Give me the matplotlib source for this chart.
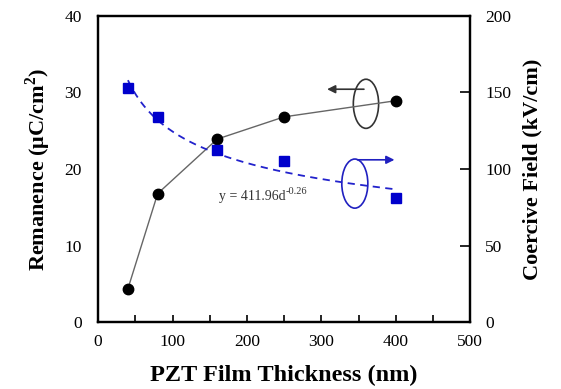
import matplotlib.pyplot as plt
import numpy as np
from matplotlib.patches import Ellipse

plt.rcParams['font.family'] = ['Liberation Serif', 'DejaVu Serif']
plt.rcParams['mathtext.fontset'] = 'custom'
plt.rcParams['mathtext.rm'] = 'Liberation Serif'
plt.rcParams['mathtext.bf'] = 'Liberation Serif:bold'

# data
thickness = [40, 80, 160, 250, 400]
remanence = [4.4, 16.8, 23.9, 26.8, 28.9]
coercive = [152.5, 134, 112.5, 105, 81]

# power-law fit printed on the chart: y = a * d^b
fit_a = 411.96
fit_b = -0.26

fig = plt.figure(figsize=(5.61, 3.89), dpi=100)
ax1 = fig.add_axes([0.175, 0.171, 0.663, 0.789])
ax2 = ax1.twinx()

ax1.plot(thickness, remanence, '-', color='#666666', linewidth=1.0, zorder=2)
ax1.plot(thickness, remanence, 'o', color='black', markersize=7.5, zorder=3)

d = np.linspace(min(thickness), max(thickness), 200)
ax2.plot(d, fit_a * d ** fit_b, '--', color='#2222cc', linewidth=1.3, dashes=(4, 3))
ax2.plot(thickness, coercive, 's', color='#0000cc', markersize=7.5)

ax1.set_xlim(0, 500)
ax1.set_ylim(0, 40)
ax2.set_ylim(0, 200)
ax1.set_xticks([0, 100, 200, 300, 400, 500])
ax1.set_xticks([50, 150, 250, 350, 450], minor=True)
ax1.set_yticks([0, 10, 20, 30, 40])
ax2.set_yticks([0, 50, 100, 150, 200])

ax1.tick_params(axis='x', direction='in', length=5, width=1.2, labelsize=12.5, pad=8)
ax1.tick_params(axis='x', which='minor', direction='in', length=5, width=1.2)
ax1.tick_params(axis='y', length=0, labelsize=12.5, pad=12)
ax2.tick_params(axis='y', direction='in', length=7, width=1.2, labelsize=12.5, pad=11)
for ax in (ax1, ax2):
    for s in ax.spines.values():
        s.set_linewidth(1.6)

ax1.set_xlabel('PZT Film Thickness (nm)', fontsize=17.5, fontweight='bold', labelpad=11)
ax1.set_ylabel(r'Remanence ($\mathbf{\mu}$C/cm$^\mathbf{2}$)', fontsize=16,
               fontweight='bold', labelpad=8)
ax2.set_ylabel('Coercive Field (kV/cm)', fontsize=16, fontweight='bold', labelpad=8)

# black ellipse + arrow pointing to the left axis
ax1.add_patch(Ellipse((360, 28.5), 34, 6.4, fill=False, edgecolor='#333333', linewidth=1.2))
ax1.annotate('', xy=(304, 30.4), xytext=(361, 30.4),
             arrowprops=dict(arrowstyle='-|>', color='#333333', lw=1.2, mutation_scale=12))

# blue ellipse + arrow pointing to the right axis
ax1.add_patch(Ellipse((345, 18.1), 35, 6.4, fill=False, edgecolor='#2020c0', linewidth=1.2))
ax1.annotate('', xy=(402, 21.2), xytext=(345, 21.2),
             arrowprops=dict(arrowstyle='-|>', color='#2020c0', lw=1.2, mutation_scale=12))

eq = ax1.text(163, 16.4, f'y = {fit_a}d', fontsize=10, color='#333333', va='center')
ax1.annotate(f'{fit_b}', xy=(1.0, 0.55), xycoords=eq, fontsize=7.5, color='#333333',
             va='bottom', ha='left')

fig.savefig('out.png', dpi=100)
